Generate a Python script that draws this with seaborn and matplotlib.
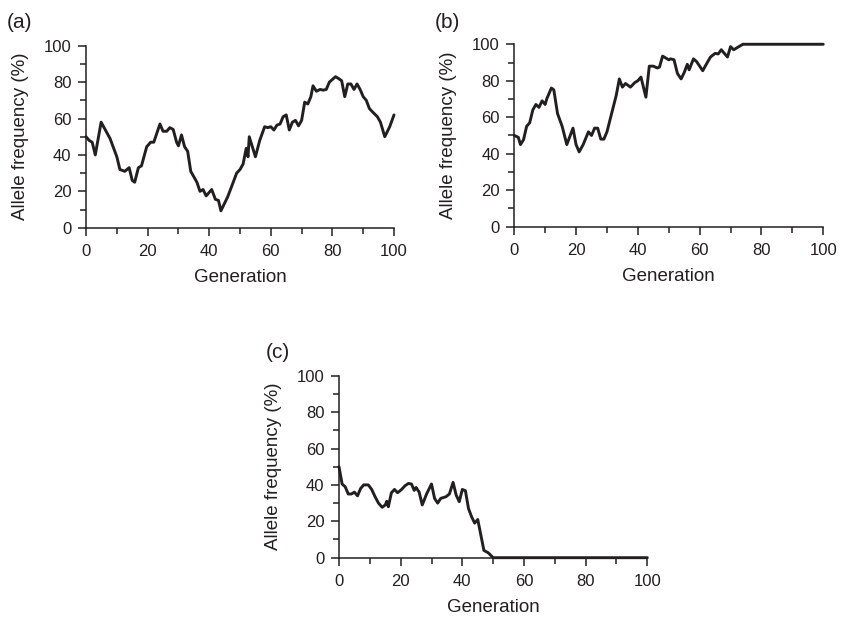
import pandas as pd
import seaborn as sns
import matplotlib.pyplot as plt

# --- valores (geração, frequência alélica %) ---
a_gen = [0, 1, 2, 3, 4.9, 7.8, 10, 11, 12.6, 14, 15, 15.8, 17, 18, 19.7,
         21, 22, 24, 25, 26.2, 27.2, 28.3, 29.4, 30, 31, 32, 33, 34, 36, 37,
         38, 39, 40.8, 42, 43, 43.8, 46, 47.8, 48.9, 50, 51, 52, 52.6, 53, 55,
         56.4, 58, 59, 60, 61, 62, 63, 64, 65, 66, 67, 68, 69, 70, 71,
         72, 73, 73.7, 74.8, 76, 77, 78, 79, 80, 81, 82, 83, 84, 85, 86,
         87, 88, 89, 90, 91, 92, 93, 94.6, 95.6, 97, 98.6, 100]
a_freq = [50, 48, 47, 40, 58, 49, 39, 32, 31, 33, 26, 25, 33, 34, 44.5,
          47, 47, 57, 53, 53, 55, 54, 47, 45, 51, 44.5, 42, 31, 25, 20,
          21, 17.5, 21, 15.6, 15, 9.3, 17, 25, 30, 32, 35, 43.6, 39, 50, 39,
          48, 55.5, 55, 55.5, 53.7, 56.4, 57, 61, 62, 53.7, 58, 59, 56, 59, 69,
          68, 72, 78, 75, 76, 75.6, 76, 80, 81.5, 83, 82, 80.8, 72, 79, 79,
          76, 79, 76, 72, 70, 65.5, 63.7, 61, 58, 50, 55.5, 62]

b_gen = [0, 1.3, 2, 3, 4, 5, 6, 7, 8, 9, 10, 10.5, 12, 12.8, 14,
         15.5, 17, 19, 20, 21, 22.3, 24, 25, 26, 27, 28, 29, 30, 31.5, 33,
         34, 35, 36, 37.6, 39, 40, 41, 42.6, 43.7, 45, 46.3, 47, 48, 49, 50,
         50.6, 51.7, 52.8, 54, 55, 56, 56.6, 58, 59, 61, 62, 63.5, 65, 66, 67,
         68, 69, 70, 71, 72, 74, 100]
b_freq = [50, 49, 45, 47.7, 55, 57, 64, 67, 65.4, 69, 67, 70, 76, 75, 62,
          55, 45, 54, 45, 41, 45, 52, 50, 54, 54, 48, 48, 52, 62, 72,
          81, 76.5, 78.5, 76.5, 79, 80, 82, 71, 88, 88, 87, 87.5, 93.5, 92.5, 91.5,
          92, 91.5, 84, 81, 84.5, 89, 86, 92, 90.5, 85.5, 88.6, 93, 95, 94.7, 97,
          95, 93, 98.7, 97, 98, 100, 100]

c_gen = [0, 1, 2, 3, 4, 5, 6, 7, 8, 9.5, 10.6, 11.7, 12.8, 14, 15,
         15.5, 16, 17, 18, 19, 20.3, 21.4, 22.5, 23.5, 24.4, 25, 26, 27, 28.4, 30,
         31, 32, 33, 34.7, 35.8, 37, 38, 39, 40, 41, 42, 43, 44, 45, 46,
         47, 48.4, 50, 100]
c_freq = [50, 40.5, 39, 35, 35, 36, 34, 38, 40, 40, 37.5, 33.5, 30, 27.7, 29,
          31, 28, 35.7, 37.5, 35.7, 37.5, 39.5, 40.8, 40.5, 37, 38.6, 36, 29, 35, 40.5,
          32.6, 30, 32.6, 33.5, 35, 41.4, 34.4, 30.8, 37.5, 36.8, 27, 22.5, 19, 21, 12.5,
          4, 2.7, 0, 0]

painel_letras = ['(a)', '(b)', '(c)']

sns.set_theme(style='ticks')
plt.rcParams['font.family'] = ['Liberation Sans', 'DejaVu Sans']

W, H = 841, 620
fig = plt.figure(figsize=(W / 100, H / 100), dpi=100)

# posições dos eixos (fração da figura) e das letras (pixels)
posicoes = [
    [0.1023, 0.6327, 0.3662, 0.2935],
    [0.6115, 0.6344, 0.3674, 0.2942],
    [0.4031, 0.1005, 0.3666, 0.2935],
]
letras_px = [(7, 22), (435, 22), (266, 352)]
dados = [(a_gen, a_freq), (b_gen, b_freq), (c_gen, c_freq)]
preto = '#231f20'

for pos, (gen, freq), letra, (lx, ly) in zip(posicoes, dados, painel_letras, letras_px):
    ax = fig.add_axes(pos)
    df = pd.DataFrame({'Generation': gen, 'freq': freq})
    sns.lineplot(data=df, x='Generation', y='freq', ax=ax,
                 color=preto, lw=2.1, sort=True)
    for ln in ax.lines:
        ln.set_clip_on(False)
        ln.set_solid_joinstyle('round')

    ax.set_xlim(0, 100)
    ax.set_ylim(0, 100)
    ax.set_xticks(range(0, 101, 20))
    ax.set_yticks(range(0, 101, 20))
    ax.set_xticks(range(0, 101, 10), minor=True)
    ax.set_yticks(range(0, 101, 10), minor=True)
    ax.tick_params(which='major', direction='out', length=5.5, width=1.1,
                   color=preto, labelsize=12, labelcolor=preto)
    ax.tick_params(axis='x', which='major', pad=6.5)
    ax.tick_params(axis='y', which='major', pad=5)
    ax.tick_params(which='minor', direction='out', length=4, width=1.1,
                   color=preto)
    for s in ['top', 'right']:
        ax.spines[s].set_visible(False)
    for s in ['left', 'bottom']:
        ax.spines[s].set_linewidth(1.1)
        ax.spines[s].set_color(preto)

    ax.set_xlabel('Generation', fontsize=13.5, color=preto, labelpad=7)
    ax.set_ylabel('Allele frequency (%)', fontsize=13.5, color=preto, labelpad=10.5)

    fig.text(lx / W, 1 - ly / H, letra, fontsize=15, color=preto,
             ha='left', va='center')

fig.savefig('out.png', dpi=100, facecolor='white')
